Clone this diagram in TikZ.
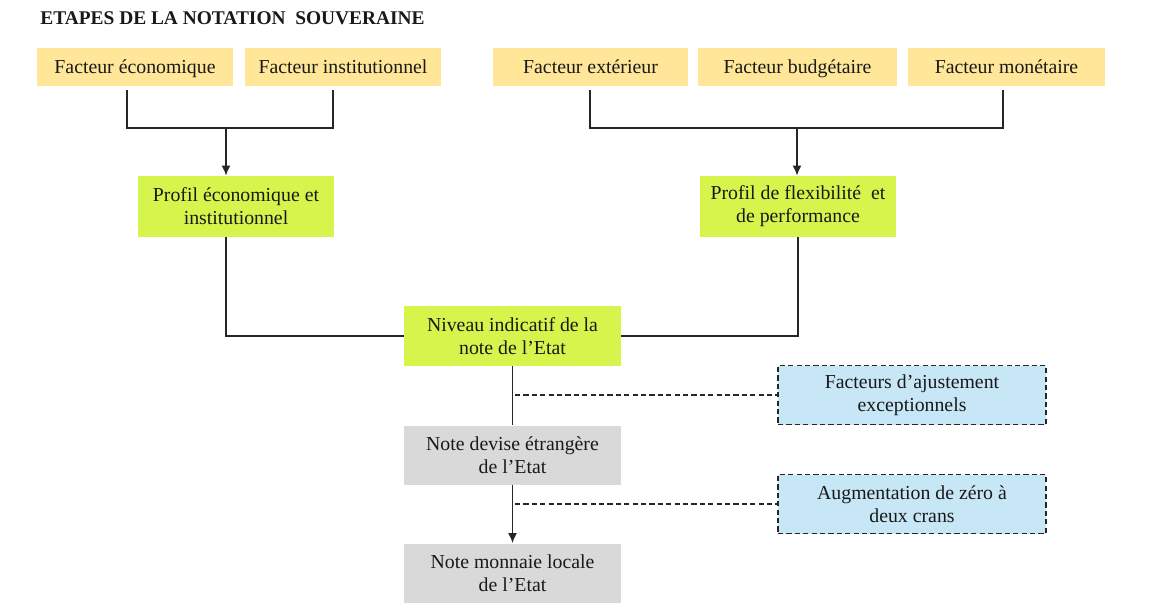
\documentclass[tikz,border=0pt]{standalone}
\usepackage{fontspec}
\setmainfont{Liberation Serif}
\usetikzlibrary{arrows.meta}
\definecolor{facteurfill}{HTML}{FFE699}
\definecolor{profilfill}{HTML}{D6F54C}
\definecolor{notefill}{HTML}{D9D9D9}
\definecolor{ajustfill}{HTML}{C8E7F6}
\definecolor{linecol}{HTML}{262626}
\begin{document}
\begin{tikzpicture}[x=0.5pt,y=-0.5pt,
  box/.style={rectangle,inner sep=0pt,align=center,font=\fontsize{9.9}{11.5}\selectfont,text=black!90},
  facteur/.style={box,fill=facteurfill,minimum height=19pt,text height=8.3pt,text depth=1.5pt},
  profil/.style={box,fill=profilfill,minimum height=30.5pt,minimum width=98pt},
  notebox/.style={box,fill=notefill,minimum height=29.5pt,minimum width=108.5pt},
  ajust/.style={box,fill=ajustfill,draw=linecol,dash pattern=on 2.6pt off 1.6pt,line width=0.65pt,minimum height=29.5pt,minimum width=134pt},
  conn/.style={draw=linecol,line width=0.8pt},
  arr/.style={conn,-{Latex[length=5pt,width=4.5pt]}},
  dconn/.style={draw=linecol,line width=0.65pt,dash pattern=on 2.6pt off 1.6pt}]
\useasboundingbox (0,0) rectangle (1156,605);

\node[anchor=west,inner sep=0pt,font=\bfseries\fontsize{9.7}{11}\selectfont,text=black!90] (title) at (40,18) {ETAPES DE LA NOTATION\ \ SOUVERAINE};

\node[facteur,minimum width=98pt] (fe) at (135,67) {Facteur économique};
\node[facteur,minimum width=98pt] (fi) at (343,67) {Facteur institutionnel};
\node[facteur,minimum width=97.5pt] (fx) at (590.5,67) {Facteur extérieur};
\node[facteur,minimum width=99.5pt] (fb) at (797.5,67) {Facteur budgétaire};
\node[facteur,minimum width=98.5pt] (fm) at (1006.5,67) {Facteur monétaire};

\node[profil] (pe) at (236,206.5) {Profil économique et\\institutionnel};
\node[profil] (pf) at (798,206.5) {Profil de flexibilité\ \ et\\de performance};

\node[box,fill=profilfill,minimum height=30pt,minimum width=108.5pt] (niv) at (512.5,336) {Niveau indicatif de la\\note de l’Etat};

\node[notebox] (nd) at (512.5,455) {Note devise étrangère\\de l’Etat};
\node[notebox] (nm) at (512.5,573) {Note monnaie locale\\de l’Etat};

\node[ajust] (fa) at (912,395) {Facteurs d’ajustement\\exceptionnels};
\node[ajust] (au) at (912,504) {Augmentation de zéro à\\deux crans};

% left group
\coordinate (fe1) at (127,90);
\coordinate (fi1) at (333,90);
\coordinate (lj) at (226,128);
\draw[conn] (fe1) |- (lj) -| (fi1);
\draw[arr] (lj) -- (lj |- pe.north);

% right group
\coordinate (fx1) at (590,90);
\coordinate (fm1) at (1003,90);
\coordinate (rj) at (797,128);
\draw[conn] (fx1) |- (rj) -| (fm1);
\draw[arr] (rj) -- (rj |- pf.north);

% profiles to niveau
\coordinate (pe1) at (226,237);
\draw[conn] (pe1) |- (niv.west);
\draw[conn] (pf.south) |- (niv.east);

% chain
\draw[conn] (niv.south) -- (nd.north);
\draw[arr] (nd.south) -- (nm.north);

% dashed
\coordinate (d1) at (515,395);
\coordinate (d2) at (515,504);
\draw[dconn] (d1) -- (fa.west);
\draw[dconn] (d2) -- (au.west);
\end{tikzpicture}
\end{document}
